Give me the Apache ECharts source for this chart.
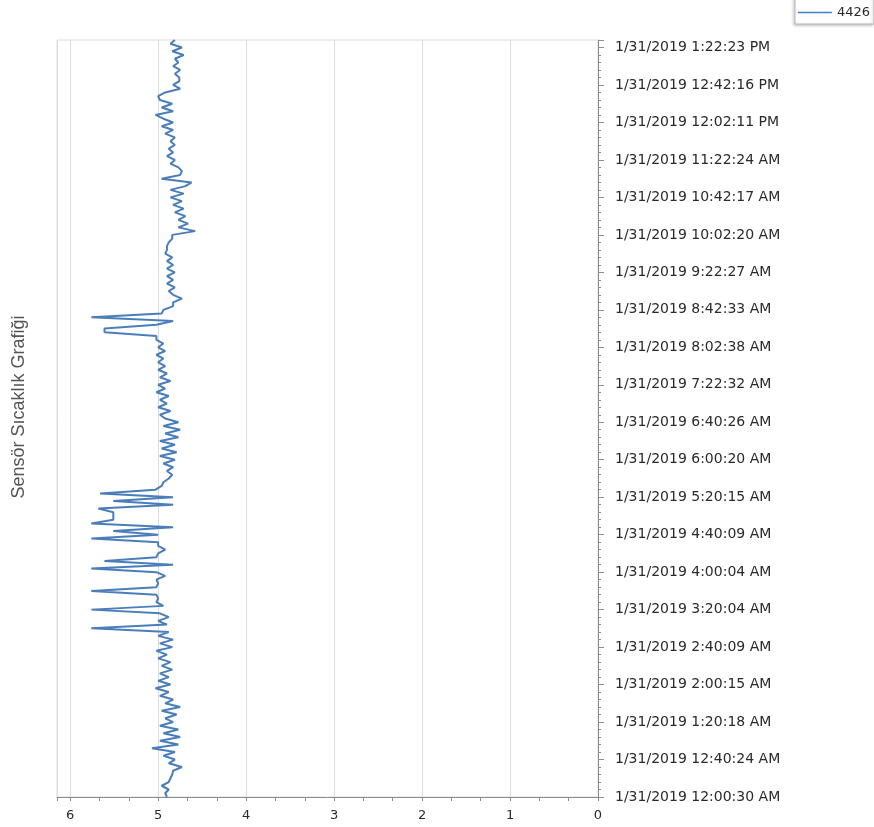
<!DOCTYPE html>
<html>
<head>
<meta charset="utf-8">
<script src="https://cdn.jsdelivr.net/npm/echarts@6/dist/echarts.min.js"></script>
<style>
html,body{margin:0;padding:0;background:#fff;}
#chart{width:874px;height:827px;}
</style>
</head>
<body>
<div id="chart"></div>
<script>
// Tick labels of the time axis (bottom to top)
var timeLabels = [
  '1/31/2019 12:00:30 AM','1/31/2019 12:40:24 AM','1/31/2019 1:20:18 AM','1/31/2019 2:00:15 AM',
  '1/31/2019 2:40:09 AM','1/31/2019 3:20:04 AM','1/31/2019 4:00:04 AM','1/31/2019 4:40:09 AM',
  '1/31/2019 5:20:15 AM','1/31/2019 6:00:20 AM','1/31/2019 6:40:26 AM','1/31/2019 7:22:32 AM',
  '1/31/2019 8:02:38 AM','1/31/2019 8:42:33 AM','1/31/2019 9:22:27 AM','1/31/2019 10:02:20 AM',
  '1/31/2019 10:42:17 AM','1/31/2019 11:22:24 AM','1/31/2019 12:02:11 PM','1/31/2019 12:42:16 PM',
  '1/31/2019 1:22:23 PM'
];
var valueTicks = [0, 1, 2, 3, 4, 5, 6];
var seriesName = '4426';
var pointsPerLabel = 10;
// Sensor readings, oldest first
var sensorValues = [
  4.90,4.92,4.88,4.96,4.88,4.86,4.84,4.83,4.73,4.88,
  4.81,4.94,4.81,5.07,4.77,4.98,4.75,4.94,4.77,4.98,
  4.83,4.92,4.79,4.96,4.75,4.92,4.83,4.98,4.88,5.03,
  4.86,5.00,4.88,4.98,4.84,4.96,4.86,5.00,4.90,5.02,
  4.84,4.98,4.83,5.00,4.88,5.76,4.90,5.00,4.88,4.98,
  5.76,4.94,5.02,5.00,5.02,5.76,5.02,5.00,5.02,4.92,
  5.02,5.76,4.83,5.61,5.02,5.00,4.92,5.00,5.00,5.76,
  5.00,5.51,4.83,5.76,5.51,5.51,5.51,5.68,4.83,5.51,
  4.83,5.66,5.03,4.96,4.94,4.88,4.84,4.90,4.83,4.94,
  4.81,4.98,4.79,4.96,4.81,4.98,4.77,4.92,4.75,4.94,
  4.77,4.92,4.98,4.86,5.00,4.90,4.98,4.88,5.02,4.92,
  5.00,4.86,4.98,4.90,5.00,4.92,5.00,4.94,5.02,4.92,
  5.00,4.94,5.02,5.02,5.61,5.61,5.02,4.83,5.76,4.96,
  4.94,4.83,4.83,4.73,4.83,4.88,4.81,4.90,4.83,4.90,
  4.81,4.90,4.83,4.90,4.84,4.92,4.90,4.90,4.88,4.84,
  4.84,4.58,4.77,4.66,4.77,4.69,4.81,4.71,4.83,4.73,
  4.86,4.71,4.86,4.69,4.62,4.96,4.75,4.73,4.77,4.86,
  4.81,4.90,4.83,4.88,4.81,4.86,4.81,4.92,4.83,4.96,
  4.83,4.94,5.03,4.83,4.96,4.84,4.98,5.00,4.92,4.75,
  4.83,4.76,4.76,4.81,4.75,4.83,4.77,4.81,4.71,4.84,
  4.73,4.86,4.81
];

var seriesData = sensorValues.map(function (v, i) { return [v, i / pointsPerLabel]; });
var yMax = (sensorValues.length - 1) / pointsPerLabel;

var chart = echarts.init(document.getElementById('chart'));
chart.setOption({
  animation: false,
  backgroundColor: '#ffffff',
  grid: {
    left: 57, right: 276, top: 40, bottom: 30,
    show: true, borderColor: '#dcdcdc', borderWidth: 1
  },
  legend: {
    right: 0, top: -6,
    padding: [12, 4, 5, 3],
    itemGap: 3,
    itemWidth: 34, itemHeight: 1.5,
    borderColor: '#b8b8b8', borderWidth: 1,
    backgroundColor: '#fff',
    shadowColor: 'rgba(0,0,0,0.25)', shadowBlur: 3, shadowOffsetX: -1, shadowOffsetY: 1,
    textStyle: { fontFamily: 'DejaVu Sans', fontSize: 13, color: '#2a2a2a' },
    data: [{ name: seriesName, icon: 'rect' }]
  },
  xAxis: {
    type: 'value',
    inverse: true,
    min: valueTicks[0],
    max: 6.15,
    interval: 1,
    axisLine: { show: true, lineStyle: { color: '#8c8c8c', width: 1 } },
    axisTick: { show: true, length: 4, lineStyle: { color: '#8c8c8c' } },
    minorTick: { show: true, splitNumber: 3, length: 4, lineStyle: { color: '#8c8c8c' } },
    splitLine: { show: true, lineStyle: { color: '#dcdcdc', width: 1 } },
    axisLabel: {
      margin: 12,
      fontFamily: 'DejaVu Sans', fontSize: 13, color: '#2a2a2a',
      formatter: function (v) { return valueTicks.indexOf(v) >= 0 ? String(v) : ''; }
    }
  },
  yAxis: {
    type: 'value',
    position: 'right',
    min: 0,
    max: yMax,
    interval: 1,
    axisLine: { show: true, lineStyle: { color: '#8c8c8c', width: 1 } },
    axisTick: { show: true, length: 6, lineStyle: { color: '#8c8c8c' } },
    minorTick: { show: true, splitNumber: 5, length: 3, lineStyle: { color: '#8c8c8c' } },
    splitLine: { show: false },
    axisLabel: {
      margin: 17,
      fontFamily: 'DejaVu Sans', fontSize: 14, color: '#2a2a2a',
      formatter: function (v) {
        var k = Math.round(v);
        return Math.abs(v - k) < 1e-6 && timeLabels[k] ? timeLabels[k] : '';
      }
    }
  },
  graphic: [{
    type: 'text',
    x: 19, y: 407,
    rotation: Math.PI / 2,
    style: {
      text: 'Sensör Sıcaklık Grafiği',
      fontFamily: 'Liberation Sans', fontSize: 18, fill: '#555',
      textAlign: 'center', textVerticalAlign: 'middle'
    }
  }],
  series: [{
    name: seriesName,
    type: 'line',
    data: seriesData,
    showSymbol: false,
    symbol: 'none',
    lineStyle: { color: '#4a7ebb', width: 2 },
    itemStyle: { color: '#4a7ebb' }
  }]
});
</script>
</body>
</html>
